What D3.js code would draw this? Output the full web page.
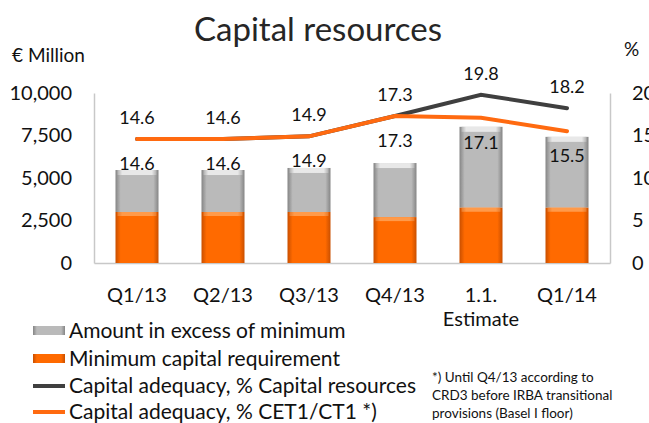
<!DOCTYPE html>
<html>
<head>
<meta charset="utf-8">
<script src="https://cdn.jsdelivr.net/npm/d3@7"></script>
<style>
  body { margin: 0; background: #fff; }
  svg { display: block; font-family: Lato, "Open Sans", sans-serif; }
</style>
</head>
<body>
<div id="chart"></div>
<script>
// chart values
var categories = ["Q1/13", "Q2/13", "Q3/13", "Q4/13", "1.1.", "Q1/14"];
var minCapital = [3000, 3000, 3000, 2700, 3250, 3250];
var excessAmount = [2470, 2470, 2590, 3180, 4760, 4170];
var capitalResourcesPct = [14.6, 14.6, 14.9, 17.3, 19.8, 18.2];
var cet1Pct = [14.6, 14.6, 14.9, 17.3, 17.1, 15.5];
var leftTicks = [0, 2500, 5000, 7500, 10000];
var rightTicks = [0, 5, 10, 15, 20];
var legendItems = ["Amount in excess of minimum", "Minimum capital requirement",
  "Capital adequacy, % Capital resources", "Capital adequacy, % CET1/CT1 *)"];
var footnote = ["*) Until Q4/13 according to", "CRD3 before IRBA transitional", "provisions (Basel I floor)"];

var width = 649, height = 423
  , plotLeft = 94, plotRight = 610, plotTop = 93, plotBottom = 263
  , font = "Lato, 'Open Sans', sans-serif";

var svg = d3.select("#chart").append("svg")
    .attr("width", width)
    .attr("height", height);

var defs = svg.append("defs");
function barGrad(id, edge, mid) {
  var g = defs.append("linearGradient").attr("id", id)
      .attr("x1", 0).attr("x2", 1).attr("y1", 0).attr("y2", 0);
  g.append("stop").attr("offset", "0%").attr("stop-color", edge);
  g.append("stop").attr("offset", "12%").attr("stop-color", mid);
  g.append("stop").attr("offset", "88%").attr("stop-color", mid);
  g.append("stop").attr("offset", "100%").attr("stop-color", edge);
}
barGrad("gGray", "#858585", "#bababa");
barGrad("gOrange", "#c94f00", "#ff6a00");
barGrad("gGrayTop", "#b0b0b0", "#e8e8e8");
barGrad("gOrangeTop", "#e87a2a", "#ff9a4a");

var x = d3.scaleBand().domain(categories).range([plotLeft, plotRight])
    .paddingInner(0.5).paddingOuter(0.25);
var y = d3.scaleLinear().domain([0, 10000]).range([plotBottom, plotTop]);
var y2 = d3.scaleLinear().domain([0, 20]).range([plotBottom, plotTop]);

// title
svg.append("text")
    .attr("x", 318).attr("y", 41)
    .attr("text-anchor", "middle")
    .attr("font-size", 33)
    .attr("fill", "#262626")
    .text("Capital resources");

svg.append("text").attr("x", 12).attr("y", 62)
    .attr("font-size", 19).attr("fill", "#111").text("€ Million");
svg.append("text").attr("x", 624).attr("y", 56)
    .attr("font-size", 19).attr("fill", "#111").text("%");

// axes
var yAxis = d3.axisLeft(y).tickValues(leftTicks).tickSize(0).tickPadding(22)
    .tickFormat(d3.format(",.0f"));
var gy = svg.append("g").attr("transform", "translate(" + plotLeft + ",0)").call(yAxis);
var y2Axis = d3.axisRight(y2).tickValues(rightTicks).tickSize(0).tickPadding(22);
var gy2 = svg.append("g").attr("transform", "translate(" + plotRight + ",0)").call(y2Axis);
[gy, gy2].forEach(function(g) {
  g.select(".domain").attr("stroke", "#c8c8c8").attr("stroke-width", 1.5);
  g.selectAll("text").attr("font-size", 20).attr("fill", "#111")
      .attr("font-family", font);
});

var xAxis = d3.axisBottom(x).tickSize(0).tickPadding(25);
var gx = svg.append("g").attr("transform", "translate(0," + plotBottom + ")").call(xAxis);
gx.select(".domain").attr("stroke", "#c8c8c8").attr("stroke-width", 1.5);
gx.selectAll("text").attr("font-size", 20).attr("fill", "#111")
    .attr("font-family", font);
gx.selectAll(".tick").filter(function(d) { return d === "1.1."; })
  .append("text")
    .attr("y", 63).attr("fill", "#111").attr("font-size", 20)
    .attr("font-family", font)
    .attr("text-anchor", "middle")
    .text("Estimate");

// stacked bars
var stacked = categories.map(function(c, i) {
  return { cat: c, min: minCapital[i], total: minCapital[i] + excessAmount[i] };
});
var bars = svg.append("g").selectAll("g").data(stacked).enter().append("g");
bars.append("rect")
    .attr("x", function(d) { return x(d.cat); })
    .attr("width", x.bandwidth())
    .attr("y", function(d) { return y(d.total); })
    .attr("height", function(d) { return y(d.min) - y(d.total); })
    .attr("fill", "url(#gGray)");
bars.append("rect")
    .attr("x", function(d) { return x(d.cat) + 2; })
    .attr("width", x.bandwidth() - 4)
    .attr("y", function(d) { return y(d.total); })
    .attr("height", 5)
    .attr("fill", "url(#gGrayTop)");
bars.append("rect")
    .attr("x", function(d) { return x(d.cat); })
    .attr("width", x.bandwidth())
    .attr("y", function(d) { return y(d.min); })
    .attr("height", function(d) { return y(0) - y(d.min); })
    .attr("fill", "url(#gOrange)");
bars.append("rect")
    .attr("x", function(d) { return x(d.cat) + 2; })
    .attr("width", x.bandwidth() - 4)
    .attr("y", function(d) { return y(d.min); })
    .attr("height", 4)
    .attr("fill", "url(#gOrangeTop)");

// lines
var cx = function(i) { return x(categories[i]) + x.bandwidth() / 2; };
var line = d3.line().x(function(d, i) { return cx(i); }).y(function(d) { return y2(d); });
svg.append("path").datum(capitalResourcesPct)
    .attr("d", line).attr("fill", "none")
    .attr("stroke", "#3f3f3f").attr("stroke-width", 4).attr("stroke-linecap", "round");
svg.append("path").datum(cet1Pct)
    .attr("d", line).attr("fill", "none")
    .attr("stroke", "#ff6a10").attr("stroke-width", 4).attr("stroke-linecap", "round");

// value labels
var fmt = d3.format(".1f");
svg.append("g").selectAll("text").data(capitalResourcesPct).enter().append("text")
    .attr("x", function(d, i) { return cx(i); })
    .attr("y", function(d) { return y2(d) - 15; })
    .attr("text-anchor", "middle").attr("font-size", 18).attr("fill", "#111")
    .text(fmt);
svg.append("g").selectAll("text").data(cet1Pct).enter().append("text")
    .attr("x", function(d, i) { return cx(i); })
    .attr("y", function(d) { return y2(d) + 31; })
    .attr("text-anchor", "middle").attr("font-size", 18).attr("fill", "#111")
    .text(fmt);

// legend
var lg = svg.append("g").attr("transform", "translate(33,0)");
var rowY = [331, 359, 386, 412];
lg.append("rect").attr("x", 0).attr("y", rowY[0] - 5).attr("width", 32).attr("height", 9)
    .attr("fill", "url(#gGray)");
lg.append("rect").attr("x", 0).attr("y", rowY[1] - 5).attr("width", 32).attr("height", 9)
    .attr("fill", "url(#gOrange)");
lg.append("line").attr("x1", 0).attr("x2", 32).attr("y1", rowY[2]).attr("y2", rowY[2])
    .attr("stroke", "#3f3f3f").attr("stroke-width", 4);
lg.append("line").attr("x1", 0).attr("x2", 32).attr("y1", rowY[3]).attr("y2", rowY[3])
    .attr("stroke", "#ff6a10").attr("stroke-width", 4);
lg.selectAll("text.item").data(legendItems).enter().append("text")
    .attr("class", "item")
    .attr("x", 36).attr("y", function(d, i) { return rowY[i] + 7; })
    .attr("font-size", 21).attr("fill", "#111")
    .text(function(d) { return d; });

svg.append("g").selectAll("text").data(footnote).enter().append("text")
    .attr("x", 432).attr("y", function(d, i) { return 382 + i * 18; })
    .attr("font-size", 13.5).attr("fill", "#111")
    .text(function(d) { return d; });
</script>
</body>
</html>
